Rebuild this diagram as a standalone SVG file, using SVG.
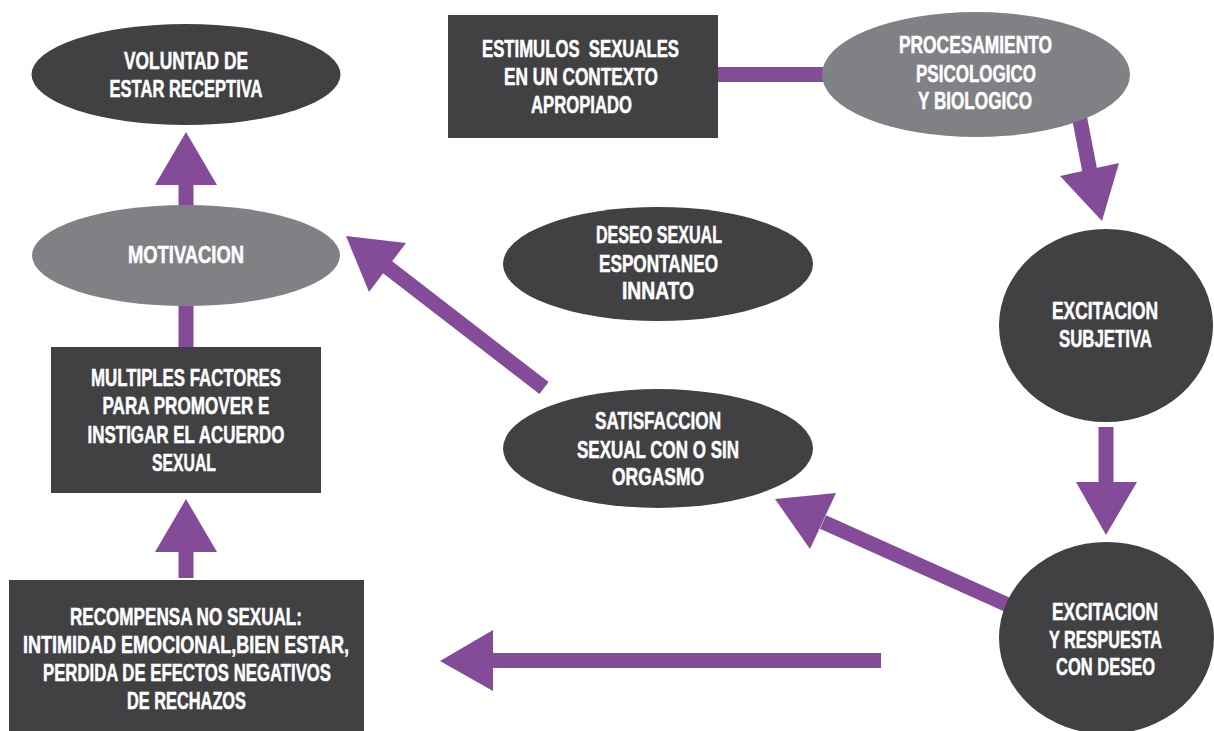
<svg xmlns="http://www.w3.org/2000/svg" width="1214" height="731" viewBox="0 0 1214 731">
<style>
.dark{fill:#414042}
.gray{fill:#808184}
.t{font-family:"Liberation Sans",Arial,sans-serif;font-weight:bold;font-size:23px;fill:#ffffff;stroke:#ffffff;stroke-width:0.5;text-anchor:middle;white-space:pre}
.sh{stroke:#844B99;stroke-width:15;fill:none}
.hd{fill:#844B99}
</style>
<rect width="1214" height="731" fill="#ffffff"/>
<g id="connectors">
<line class="sh" x1="186" y1="183" x2="186" y2="210"/>
<polygon class="hd" points="186,132 217,185 155,185"/>
<line class="sh" x1="186" y1="300" x2="186" y2="350"/>
<line class="sh" x1="186" y1="550" x2="186" y2="578"/>
<polygon class="hd" points="186,499 217,552 155,552"/>
<line class="sh" x1="715" y1="74.5" x2="826" y2="74.5"/>
<line class="sh" x1="1079" y1="115" x2="1090" y2="172"/>
<polygon class="hd" points="1060,176 1119,163 1102,221"/>
<line class="sh" x1="1106" y1="427" x2="1106" y2="484"/>
<polygon class="hd" points="1076,482 1137,482 1106,535"/>
<line class="sh" x1="1008" y1="605" x2="823" y2="522"/>
<polygon class="hd" points="775,499 836,493 810,549"/>
<line class="sh" x1="881" y1="660.5" x2="490" y2="660.5"/>
<polygon class="hd" points="440,661 493,630 493,691"/>
<line class="sh" x1="544" y1="388" x2="386" y2="266"/>
<polygon class="hd" points="346,236 406,243 369,292"/>
</g>
<g id="voluntad">
<ellipse class="dark" cx="186" cy="74.5" rx="154.5" ry="50.5"/>
<text class="t" x="186" y="69" textLength="124" lengthAdjust="spacingAndGlyphs">VOLUNTAD DE</text>
<text class="t" x="186" y="97" textLength="153" lengthAdjust="spacingAndGlyphs">ESTAR RECEPTIVA</text>
</g>
<g id="motivacion">
<ellipse class="gray" cx="186" cy="255.5" rx="154" ry="50.5"/>
<text class="t" x="186" y="263" textLength="116" lengthAdjust="spacingAndGlyphs">MOTIVACION</text>
</g>
<g id="multiples">
<rect class="dark" x="51" y="347" width="270" height="146"/>
<text class="t" x="186" y="386" textLength="190" lengthAdjust="spacingAndGlyphs">MULTIPLES FACTORES</text>
<text class="t" x="186" y="414" textLength="167" lengthAdjust="spacingAndGlyphs">PARA PROMOVER E</text>
<text class="t" x="186" y="443" textLength="197" lengthAdjust="spacingAndGlyphs">INSTIGAR EL ACUERDO</text>
<text class="t" x="184" y="471" textLength="64" lengthAdjust="spacingAndGlyphs">SEXUAL</text>
</g>
<g id="recompensa">
<rect class="dark" x="9" y="580" width="355" height="151"/>
<text class="t" x="186" y="625" textLength="232" lengthAdjust="spacingAndGlyphs">RECOMPENSA NO SEXUAL:</text>
<text class="t" x="186" y="653" textLength="326" lengthAdjust="spacingAndGlyphs">INTIMIDAD EMOCIONAL,BIEN ESTAR,</text>
<text class="t" x="187" y="681" textLength="288" lengthAdjust="spacingAndGlyphs">PERDIDA DE EFECTOS NEGATIVOS</text>
<text class="t" x="186.5" y="709" textLength="119" lengthAdjust="spacingAndGlyphs">DE RECHAZOS</text>
</g>
<g id="estimulos">
<rect class="dark" x="448" y="15" width="270" height="123"/>
<text class="t" x="580.5" y="57" textLength="197" lengthAdjust="spacingAndGlyphs">ESTIMULOS  SEXUALES</text>
<text class="t" x="581" y="85" textLength="154" lengthAdjust="spacingAndGlyphs">EN UN CONTEXTO</text>
<text class="t" x="581.5" y="113" textLength="101" lengthAdjust="spacingAndGlyphs">APROPIADO</text>
</g>
<g id="procesamiento">
<ellipse class="gray" cx="976" cy="74.5" rx="154" ry="62.5"/>
<text class="t" x="975.5" y="53" textLength="153" lengthAdjust="spacingAndGlyphs">PROCESAMIENTO</text>
<text class="t" x="976" y="82" textLength="120" lengthAdjust="spacingAndGlyphs">PSICOLOGICO</text>
<text class="t" x="975" y="109" textLength="114" lengthAdjust="spacingAndGlyphs">Y BIOLOGICO</text>
</g>
<g id="deseo">
<ellipse class="dark" cx="658" cy="264" rx="155" ry="57"/>
<text class="t" x="659" y="243" textLength="126" lengthAdjust="spacingAndGlyphs">DESEO SEXUAL</text>
<text class="t" x="658.5" y="272" textLength="119" lengthAdjust="spacingAndGlyphs">ESPONTANEO</text>
<text class="t" x="658" y="299" textLength="72" lengthAdjust="spacingAndGlyphs">INNATO</text>
</g>
<g id="satisfaccion">
<ellipse class="dark" cx="658" cy="448.5" rx="155" ry="59.5"/>
<text class="t" x="658" y="429" textLength="126" lengthAdjust="spacingAndGlyphs">SATISFACCION</text>
<text class="t" x="658" y="458" textLength="162" lengthAdjust="spacingAndGlyphs">SEXUAL CON O SIN</text>
<text class="t" x="658" y="485" textLength="92" lengthAdjust="spacingAndGlyphs">ORGASMO</text>
</g>
<g id="excitacion-subjetiva">
<ellipse class="dark" cx="1106" cy="325.5" rx="107" ry="96.5"/>
<text class="t" x="1105" y="319" textLength="106" lengthAdjust="spacingAndGlyphs">EXCITACION</text>
<text class="t" x="1105.5" y="347" textLength="93" lengthAdjust="spacingAndGlyphs">SUBJETIVA</text>
</g>
<g id="excitacion-respuesta">
<ellipse class="dark" cx="1106.5" cy="638" rx="107.5" ry="96"/>
<text class="t" x="1105" y="620" textLength="106" lengthAdjust="spacingAndGlyphs">EXCITACION</text>
<text class="t" x="1105.5" y="648" textLength="113" lengthAdjust="spacingAndGlyphs">Y RESPUESTA</text>
<text class="t" x="1105.5" y="675" textLength="99" lengthAdjust="spacingAndGlyphs">CON DESEO</text>
</g>
</svg>
